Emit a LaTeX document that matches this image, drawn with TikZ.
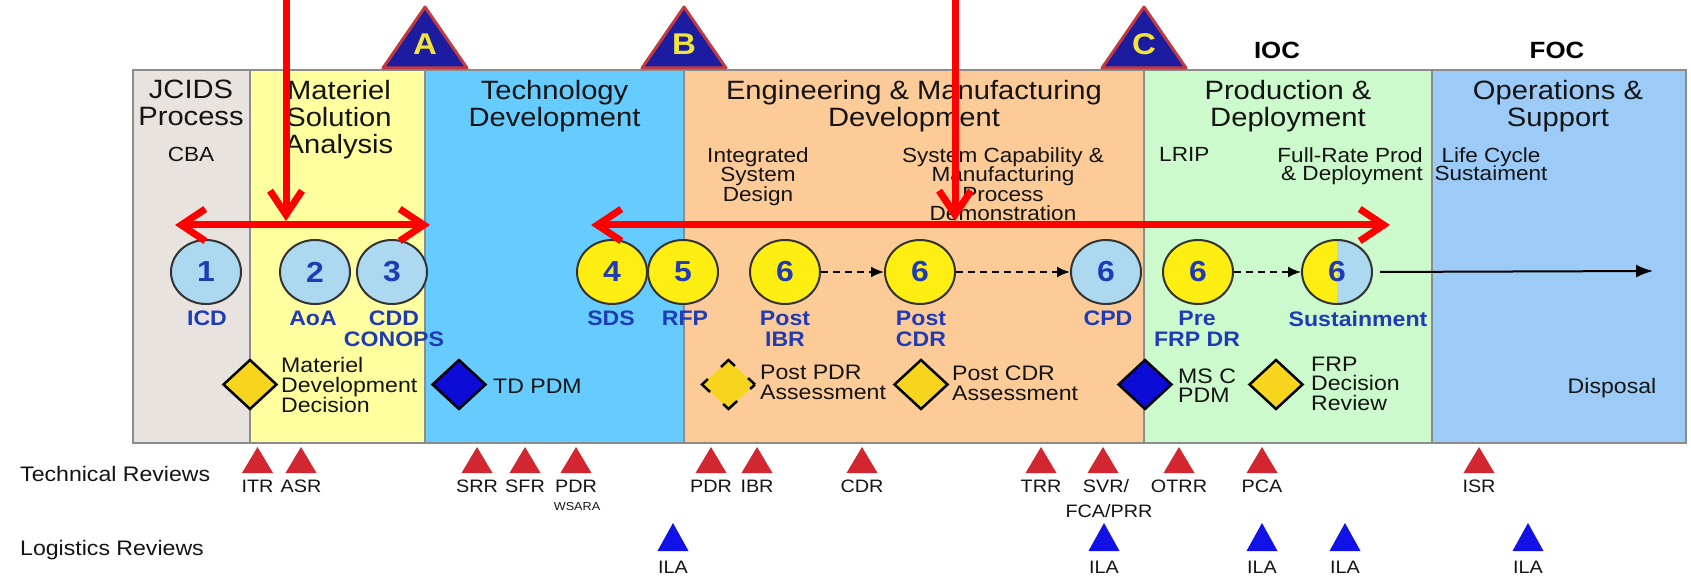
\documentclass[tikz,border=0pt]{standalone}
\usepackage{fontspec}
\setmainfont{Liberation Sans}[FakeStretch=1.1]
\usetikzlibrary{arrows.meta,shapes.geometric}
\lineskiplimit=-100pt

\definecolor{jcidsfill}{HTML}{E8E3DF}
\definecolor{msafill}{HTML}{FFFFA0}
\definecolor{tdfill}{HTML}{66CCFF}
\definecolor{emdfill}{HTML}{FDCB98}
\definecolor{pdfill}{HTML}{CCFACC}
\definecolor{osfill}{HTML}{9CCBF8}
\definecolor{framegray}{HTML}{8C8C8C}
\definecolor{msnavy}{HTML}{1C1CA0}
\definecolor{msred}{HTML}{C23A3F}
\definecolor{msyellow}{HTML}{F2E43A}
\definecolor{dotyellow}{HTML}{FFEE11}
\definecolor{dotblue}{HTML}{ACD8F0}
\definecolor{dotink}{HTML}{1F3BB5}
\definecolor{dmdyellow}{HTML}{F7D51F}
\definecolor{dmdblue}{HTML}{0C0CD6}
\definecolor{revred}{HTML}{D22630}
\definecolor{revblue}{HTML}{1212E6}
\definecolor{inkblack}{HTML}{141414}
\definecolor{arrowred}{HTML}{FF0000}

\newcommand\fsz[2]{\fontsize{#1pt}{#2pt}\selectfont}

\begin{document}
\begin{tikzpicture}[x=1pt,y=-1pt,
  frame/.style={draw=framegray, line width=2pt},
  mstri/.style={fill=msnavy, draw=msred, line width=3pt, line join=round},
  msletter/.style={font=\fsz{30}{30}\bfseries, text=msyellow, inner sep=0pt, anchor=base},
  capstone/.style={font=\fsz{23.5}{24}\bfseries, text=black, inner sep=0pt, anchor=base},
  title/.style={font=\fsz{26.5}{27}, text=inkblack, align=center, inner sep=0pt, anchor=north},
  subtitle/.style={font=\fsz{20.5}{19.5}, text=inkblack, align=center, inner sep=0pt, anchor=north},
  dot/.style={ellipse, draw=black!80, line width=2pt, minimum width=70pt, minimum height=64pt,
    inner sep=0pt, font=\fsz{29}{29}\bfseries, text=dotink},
  dotY/.style={dot, fill=dotyellow},
  dotB/.style={dot, fill=dotblue},
  dotlabel/.style={font=\fsz{21}{21}\bfseries, text=dotink, align=center, inner sep=0pt, anchor=north},
  gem/.style={diamond, draw=black, line width=2.5pt, minimum width=54pt, minimum height=50pt, inner sep=0pt},
  gemY/.style={gem, fill=dmdyellow},
  gemB/.style={gem, fill=dmdblue},
  gemtext/.style={font=\fsz{21}{20}, text=inkblack, align=left, inner sep=0pt, anchor=north west},
  flow/.style={line width=2pt, dash pattern=on 7pt off 5pt, -{Latex[length=13pt,width=11pt]}},
  redarrow/.style={draw=arrowred, line width=7pt, line cap=round,
    arrows={Straight Barb[length=24pt,width=32pt]-Straight Barb[length=24pt,width=32pt]}},
  revlabel/.style={font=\fsz{18}{18}, text=inkblack, inner sep=0pt, anchor=base},
  rowlabel/.style={font=\fsz{21}{21}, text=inkblack, inner sep=0pt, anchor=base west}
]
\useasboundingbox[fill=white] (0,0) rectangle (1691,577);

% phase columns
\fill[jcidsfill] (133,70) rectangle (250,443);
\fill[msafill]   (250,70) rectangle (425,443);
\fill[tdfill]    (425,70) rectangle (684,443);
\fill[emdfill]   (684,70) rectangle (1144,443);
\fill[pdfill]    (1144,70) rectangle (1432,443);
\fill[osfill]    (1432,70) rectangle (1686,443);
\draw[frame] (133,70) rectangle (1686,443);
\foreach \xb in {250,425,684,1144,1432} \draw[frame] (\xb,70) -- (\xb,443);

% milestone triangles
\draw[mstri] (383,68) -- (425,7) -- (467,68) -- cycle;
\draw[mstri] (642,68) -- (684,7) -- (726,68) -- cycle;
\draw[mstri] (1102,68) -- (1144,7) -- (1186,68) -- cycle;
\node[msletter] (msA) at (425,55) {A};
\node[msletter] (msB) at (684,55) {B};
\node[msletter] (msC) at (1144,55) {C};
\node[capstone] (ioc) at (1277,58.5) {IOC};
\node[capstone] (foc) at (1557,58.5) {FOC};

% phase titles
\node[title] (tJcids) at (191,80) {JCIDS\\Process};
\node[title] (tMsa)   at (339,80) {Materiel\\Solution\\Analysis};
\node[title] (tTd)    at (554.5,80) {Technology\\Development};
\node[title] (tEmd)   at (914,80) {Engineering \& Manufacturing\\Development};
\node[title] (tPd)    at (1288,80) {Production \&\\Deployment};
\node[title] (tOs)    at (1558,80) {Operations \&\\Support};

% sub-phase notes
\node[subtitle] (sCba)  at (191,147) {CBA};
\node[subtitle] (sIsd)  at (758,147) {Integrated\\System\\Design};
\node[subtitle] (sScmp) at (1003,147) {System Capability \&\\Manufacturing\\Process\\Demonstration};
\node[subtitle, anchor=north west] (sLrip) at (1159,147) {LRIP};
\node[subtitle, font=\fsz{20.5}{18}, align=right, anchor=north east] (sFrp) at (1423,147) {Full-Rate Prod\\\& Deployment};
\node[subtitle, font=\fsz{20.5}{18}] (sLcs) at (1491,147) {Life Cycle\\Sustaiment};

% document circles
\node[dotB] (c1) at (206,272) {1};
\node[dotB] (c2) at (315,272) {2};
\node[dotB] (c3) at (392,272) {3};
\node[dotY] (c4) at (612,272) {4};
\node[dotY] (c5) at (683,272) {5};
\node[dotY] (c6a) at (785,272) {6};
\node[dotY] (c6b) at (920,272) {6};
\node[dotB] (c6c) at (1106,272) {6};
\node[dotY] (c6d) at (1198,272) {6};
\node[dotB, path picture={\fill[dotyellow] (path picture bounding box.south west) rectangle (path picture bounding box.north);}] (c6e) at (1337,272) {6};

\node[dotlabel] (lIcd)  at (207,311) {ICD};
\node[dotlabel] (lAoa)  at (313,311) {AoA};
\node[dotlabel] (lCdd)  at (394,311) {CDD\\CONOPS};
\node[dotlabel] (lSds)  at (611,311) {SDS};
\node[dotlabel] (lRfp)  at (685,311) {RFP};
\node[dotlabel] (lPibr) at (785,311) {Post\\IBR};
\node[dotlabel] (lPcdr) at (921,311) {Post\\CDR};
\node[dotlabel] (lCpd)  at (1108,311) {CPD};
\node[dotlabel] (lPre)  at (1197,311) {Pre\\FRP DR};
\node[dotlabel] (lSus)  at (1358,311) {Sustainment};

\draw[flow] (c6a) -- (c6b);
\draw[flow] (c6b) -- (c6c);
\draw[flow] (c6d) -- (c6e);
\coordinate (lifeEnd) at (1653,271);
\draw[line width=2pt, -{Latex[length=17pt,width=13pt]}, shorten <=7pt] (c6e.east) -- (lifeEnd);

% decision points
\node[gemY] (dMdd)  at (250,384.5) {};
\node[gemB] (dTd)   at (459,384.5) {};
\node[gemY, dash pattern=on 19pt off 17.8pt, dash phase=9.5pt] (dPdr) at (728.5,384.5) {};
\node[gemY] (dCdr)  at (921,384.5) {};
\node[gemB] (dMsc)  at (1145,384.5) {};
\node[gemY] (dFrp)  at (1276,384.5) {};

\node[gemtext] (gMdd) at (281,356.8) {Materiel\\Development\\Decision};
\node[gemtext, anchor=base west] (gTd) at (493,393.5) {TD PDM};
\node[gemtext] (gPdr) at (760,365.3) {Post PDR\\Assessment};
\node[gemtext] (gCdr) at (952,365.3) {Post CDR\\Assessment};
\node[gemtext, font=\fsz{21}{19.5}] (gMsc) at (1178,368.3) {MS C\\PDM};
\node[gemtext, font=\fsz{21}{19.5}] (gFrp) at (1311,356.8) {FRP\\Decision\\Review};
\node[gemtext, anchor=base] (gDisp) at (1612,393.5) {Disposal};

% review rows
\node[rowlabel] (rowTech) at (20,481.5) {Technical Reviews};
\node[rowlabel] (rowLog)  at (20,555.5) {Logistics Reviews};

\foreach \x/\lab [count=\i] in {257.5/ITR, 301/ASR, 477/SRR, 525/SFR, 576/PDR, 711/PDR, 757/IBR,
    862/CDR, 1041/TRR, 1179/OTRR, 1262/PCA, 1479/ISR} {
  \fill[revred] (\x-15.5,473) -- (\x,447) -- (\x+15.5,473) -- cycle;
  \node[revlabel] (tr\i) at (\x,492.5) {\lab};
}
\fill[revred] (1087.5,473) -- (1103,447) -- (1118.5,473) -- cycle;
\node[revlabel] (trSvr) at (1106,492.5) {SVR/};
\node[revlabel] (trFca) at (1109,517) {FCA/PRR};
\node[revlabel, font=\fsz{11.5}{12}] (trWsara) at (577,510) {WSARA};

\foreach \x [count=\i] in {673,1104,1262,1345,1528} {
  \fill[revblue] (\x-15.5,551) -- (\x,523) -- (\x+15.5,551) -- cycle;
  \node[revlabel] (ila\i) at (\x,573) {ILA};
}

% overlay arrows
\coordinate (vaTop1) at (286,-6);
\coordinate (vaTip1) at (286,221);
\coordinate (vaTop2) at (955,-6);
\coordinate (vaTip2) at (955,221);
\coordinate (haL1) at (175,225);
\coordinate (haR1) at (430,225);
\coordinate (haL2) at (591,225);
\coordinate (haR2) at (1390,225);
\draw[redarrow, arrows={-Straight Barb[length=24pt,width=32pt]}] (vaTop1) -- (vaTip1);
\draw[redarrow, arrows={-Straight Barb[length=24pt,width=32pt]}] (vaTop2) -- (vaTip2);
\draw[redarrow] (haL1) -- (haR1);
\draw[redarrow] (haL2) -- (haR2);
\end{tikzpicture}
\end{document}
